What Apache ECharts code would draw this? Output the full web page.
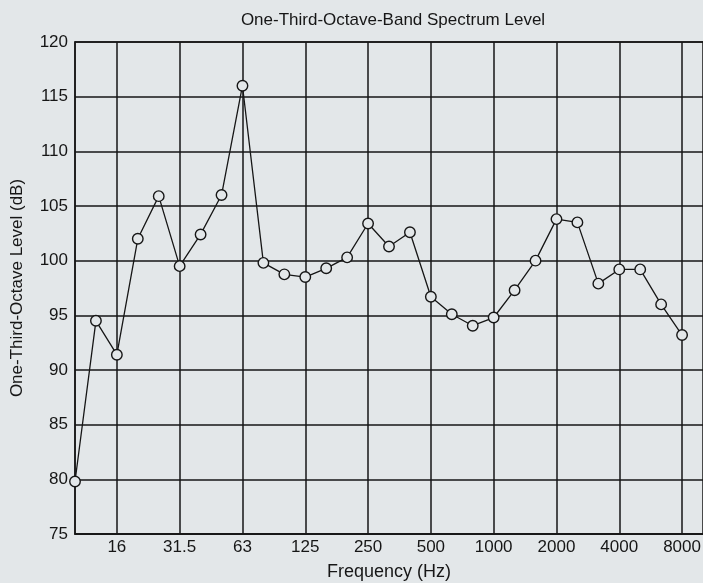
<!DOCTYPE html>
<html>
<head>
<meta charset="utf-8">
<script src="https://cdn.jsdelivr.net/npm/echarts@6/dist/echarts.min.js"></script>
<style>
html,body{margin:0;padding:0;background:#e3e7e9;}
#chart{width:703px;height:583px;}
</style>
</head>
<body>
<div id="chart"></div>
<script>
// One-third-octave band centre frequencies (Hz), 10 Hz .. 10 kHz (axis extent)
var bands = ['10','12.5','16','20','25','31.5','40','50','63','80','100','125','160','200','250','315','400','500','630','800','1000','1250','1600','2000','2500','3150','4000','5000','6300','8000','10000'];
// Labelled bands on the x axis
var tickLabels = ['16','31.5','63','125','250','500','1000','2000','4000','8000'];
// Band levels (dB), 10 Hz .. 8000 Hz
var levels = [79.8, 94.5, 91.4, 102.0, 105.9, 99.5, 102.4, 106.0, 116.0, 99.8, 98.75, 98.5, 99.3, 100.3, 103.4, 101.3, 102.6, 96.7, 95.1, 94.05, 94.8, 97.3, 100.0, 103.8, 103.5, 97.9, 99.2, 99.2, 96.0, 93.2];
var yTicks = [75, 80, 85, 90, 95, 100, 105, 110, 115, 120];

var bg = '#e3e7e9';
var ink = '#161616';
var font = 'Liberation Sans, Arial, sans-serif';
var chart = echarts.init(document.getElementById('chart'), null, {renderer: 'canvas'});
function isTick(idx) { return tickLabels.indexOf(bands[idx]) >= 0; }
chart.setOption({
  backgroundColor: bg,
  animation: false,
  title: {
    text: 'One-Third-Octave-Band Spectrum Level',
    left: 388, top: 7, textAlign: 'center',
    textStyle: {fontFamily: font, fontSize: 17, fontWeight: 'normal', color: ink}
  },
  grid: {left: 75, right: 0, top: 42, bottom: 49, show: true, borderColor: ink, borderWidth: 1.5, containLabel: false, outerBoundsMode: 'none'},
  xAxis: {
    type: 'category',
    data: bands,
    boundaryGap: false,
    name: 'Frequency (Hz)',
    nameLocation: 'middle',
    nameGap: 29,
    nameTextStyle: {fontFamily: font, fontSize: 18, color: ink},
    axisLine: {lineStyle: {color: ink, width: 1.5}},
    axisTick: {show: false},
    axisLabel: {
      interval: function (idx) { return isTick(idx); },
      margin: 5,
      fontFamily: font, fontSize: 17, color: ink
    },
    splitLine: {show: true, interval: function (idx) { return isTick(idx); }, lineStyle: {color: ink, width: 1.5}}
  },
  yAxis: {
    type: 'value',
    min: yTicks[0], max: yTicks[yTicks.length - 1], interval: 5,
    name: 'One-Third-Octave Level (dB)',
    nameLocation: 'middle',
    nameGap: 49,
    nameTextStyle: {fontFamily: font, fontSize: 17, color: ink},
    axisLine: {show: true, lineStyle: {color: ink, width: 1.5}},
    axisTick: {show: false},
    axisLabel: {margin: 7, fontFamily: font, fontSize: 17, color: ink},
    splitLine: {show: true, lineStyle: {color: ink, width: 1.5}}
  },
  series: [{
    type: 'line',
    data: levels,
    symbol: 'circle',
    symbolSize: 10.5,
    showAllSymbol: true,
    lineStyle: {color: ink, width: 1.3},
    itemStyle: {color: bg, borderColor: ink, borderWidth: 1.4}
  }]
});
</script>
</body>
</html>
